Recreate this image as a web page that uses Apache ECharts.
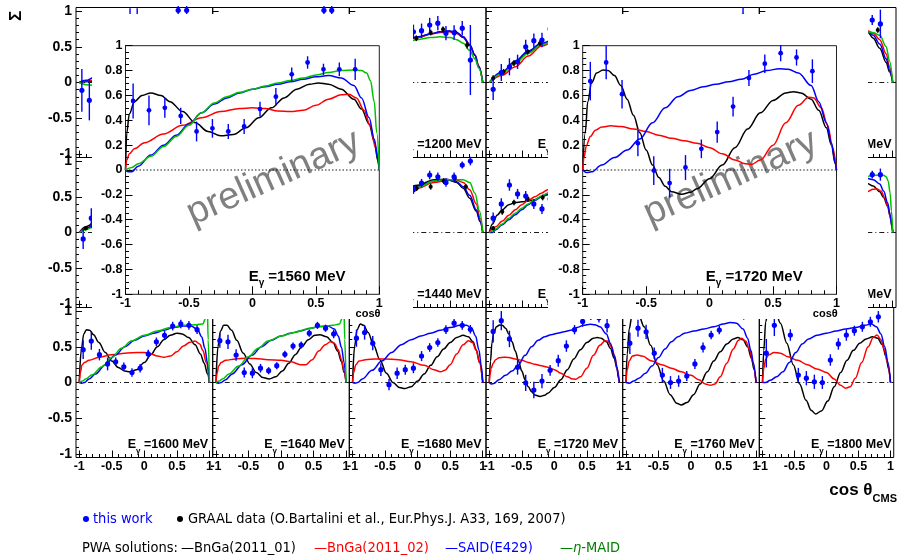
<!DOCTYPE html>
<html>
<head>
<meta charset="utf-8">
<script src="https://cdn.jsdelivr.net/npm/echarts@6/dist/echarts.min.js"></script>
<style>
  html, body { margin: 0; padding: 0; background: #fff; }
  #chart { width: 897px; height: 555px; }
</style>
</head>
<body>
<div id="chart"></div>
<script>
// ---- data ----
const cosBins = [-0.94, -0.815, -0.69, -0.565, -0.44, -0.315, -0.19, -0.065, 0.06, 0.185, 0.31, 0.435, 0.56, 0.685, 0.81];
const energies = [[1120, 1160, 1200, 1240, 1280, 1320], [1360, 1400, 1440, 1480, 1520, 1560], [1600, 1640, 1680, 1720, 1760, 1800]];

// 1560 MeV (inset, also row 2 col 6)
const sig1560 = [0.555, 0.48, 0.50, 0.435, 0.31, 0.335, 0.31, 0.35, 0.49, 0.59, 0.77, 0.865, 0.81, 0.81, 0.81];
const err1560 = [0.14, 0.12, 0.08, 0.065, 0.08, 0.075, 0.06, 0.06, 0.06, 0.07, 0.055, 0.05, 0.045, 0.055, 0.085];
const bnga1_1560 = [[-1, 0], [-0.99, 0.3], [-0.97, 0.45], [-0.93, 0.55], [-0.87, 0.6], [-0.8, 0.62], [-0.72, 0.6], [-0.65, 0.55], [-0.55, 0.47], [-0.45, 0.38], [-0.35, 0.31], [-0.25, 0.275], [-0.15, 0.285], [-0.05, 0.34], [0.05, 0.42], [0.15, 0.5], [0.25, 0.58], [0.35, 0.65], [0.45, 0.69], [0.52, 0.7], [0.6, 0.69], [0.7, 0.65], [0.8, 0.57], [0.86, 0.49], [0.92, 0.37], [0.96, 0.23], [0.99, 0.07], [1, 0]];
const bnga2_1560 = [[-1, 0], [-0.99, 0.08], [-0.97, 0.13], [-0.93, 0.17], [-0.85, 0.22], [-0.7, 0.29], [-0.55, 0.36], [-0.4, 0.42], [-0.25, 0.47], [-0.1, 0.495], [0, 0.5], [0.1, 0.495], [0.2, 0.475], [0.3, 0.47], [0.4, 0.48], [0.5, 0.52], [0.6, 0.57], [0.7, 0.605], [0.76, 0.61], [0.82, 0.58], [0.88, 0.48], [0.93, 0.35], [0.97, 0.18], [1, 0]];
const said1560 = [[-1, 0], [-0.98, -0.015], [-0.95, -0.015], [-0.9, 0.03], [-0.8, 0.12], [-0.7, 0.2], [-0.6, 0.28], [-0.5, 0.37], [-0.4, 0.46], [-0.3, 0.53], [-0.2, 0.58], [-0.1, 0.62], [0, 0.65], [0.1, 0.67], [0.2, 0.69], [0.3, 0.71], [0.4, 0.73], [0.5, 0.75], [0.6, 0.76], [0.7, 0.74], [0.8, 0.68], [0.86, 0.58], [0.92, 0.42], [0.96, 0.25], [0.99, 0.08], [1, 0]];
const maid1560 = [[-1, 0], [-0.95, 0.02], [-0.9, 0.05], [-0.8, 0.11], [-0.7, 0.19], [-0.6, 0.27], [-0.5, 0.36], [-0.4, 0.46], [-0.3, 0.54], [-0.2, 0.59], [-0.1, 0.625], [0, 0.65], [0.1, 0.675], [0.2, 0.7], [0.3, 0.72], [0.4, 0.74], [0.5, 0.765], [0.6, 0.785], [0.7, 0.8], [0.8, 0.805], [0.86, 0.8], [0.9, 0.78], [0.93, 0.72], [0.96, 0.55], [0.98, 0.3], [1, 0]];

// 1720 MeV (inset, also row 3 col 4)
const sig1720 = [0.715, 0.865, 0.61, 0.215, -0.005, -0.105, 0.02, 0.17, 0.305, 0.51, 0.74, 0.855, 0.94, 0.905, 0.795];
const err1720 = [0.155, 0.135, 0.115, 0.105, 0.115, 0.115, 0.1, 0.075, 0.085, 0.08, 0.065, 0.075, 0.065, 0.065, 0.095];
const bnga1_1720 = [[-1, 0], [-0.98, 0.3], [-0.96, 0.55], [-0.93, 0.7], [-0.89, 0.78], [-0.84, 0.805], [-0.8, 0.8], [-0.75, 0.76], [-0.7, 0.68], [-0.65, 0.57], [-0.6, 0.44], [-0.55, 0.3], [-0.5, 0.16], [-0.45, 0.04], [-0.4, -0.06], [-0.35, -0.13], [-0.3, -0.175], [-0.22, -0.195], [-0.15, -0.18], [-0.1, -0.15], [0, -0.07], [0.1, 0.04], [0.2, 0.18], [0.3, 0.33], [0.4, 0.46], [0.5, 0.56], [0.6, 0.62], [0.66, 0.63], [0.72, 0.62], [0.8, 0.57], [0.86, 0.48], [0.92, 0.34], [0.96, 0.2], [0.99, 0.05], [1, 0]];
const bnga2_1720 = [[-1, 0], [-0.99, 0.1], [-0.97, 0.2], [-0.94, 0.27], [-0.9, 0.32], [-0.85, 0.345], [-0.78, 0.355], [-0.7, 0.35], [-0.6, 0.33], [-0.5, 0.31], [-0.4, 0.28], [-0.3, 0.255], [-0.2, 0.235], [-0.1, 0.215], [0, 0.18], [0.1, 0.13], [0.2, 0.08], [0.28, 0.05], [0.33, 0.045], [0.4, 0.08], [0.5, 0.2], [0.6, 0.38], [0.7, 0.52], [0.78, 0.585], [0.82, 0.58], [0.88, 0.5], [0.93, 0.36], [0.97, 0.18], [1, 0]];
const said1720 = [[-1, 0], [-0.97, -0.02], [-0.93, -0.015], [-0.85, 0.04], [-0.75, 0.1], [-0.65, 0.16], [-0.55, 0.25], [-0.45, 0.38], [-0.35, 0.5], [-0.25, 0.59], [-0.15, 0.64], [-0.05, 0.67], [0.05, 0.69], [0.15, 0.71], [0.25, 0.73], [0.35, 0.77], [0.45, 0.8], [0.55, 0.815], [0.62, 0.81], [0.7, 0.78], [0.8, 0.68], [0.86, 0.55], [0.92, 0.38], [0.96, 0.22], [0.99, 0.06], [1, 0]];

// row 3 panels
const sig1600 = [0.46, 0.58, 0.39, 0.26, 0.29, 0.22, 0.14, 0.2, 0.4, 0.57, 0.66, 0.79, 0.82, 0.8, 0.74];
const err1600 = [0.13, 0.12, 0.08, 0.09, 0.06, 0.06, 0.06, 0.06, 0.06, 0.06, 0.06, 0.06, 0.06, 0.06, 0.06];
const bnga1_1600 = [[-1, 0], [-0.97, 0.45], [-0.93, 0.68], [-0.89, 0.74], [-0.84, 0.73], [-0.78, 0.67], [-0.7, 0.56], [-0.6, 0.42], [-0.5, 0.3], [-0.4, 0.21], [-0.3, 0.16], [-0.22, 0.15], [-0.12, 0.18], [0, 0.28], [0.1, 0.39], [0.2, 0.5], [0.3, 0.6], [0.4, 0.66], [0.5, 0.69], [0.58, 0.68], [0.68, 0.63], [0.78, 0.53], [0.86, 0.4], [0.92, 0.27], [0.97, 0.12], [1, 0]];
const bnga2_1600 = [[-1, 0], [-0.98, 0.15], [-0.96, 0.24], [-0.92, 0.28], [-0.85, 0.31], [-0.7, 0.35], [-0.5, 0.39], [-0.3, 0.41], [-0.1, 0.42], [0, 0.42], [0.1, 0.4], [0.2, 0.37], [0.3, 0.355], [0.4, 0.37], [0.5, 0.43], [0.6, 0.51], [0.7, 0.565], [0.78, 0.58], [0.85, 0.54], [0.9, 0.45], [0.95, 0.28], [1, 0]];
const said1600 = [[-1, 0], [-0.96, -0.01], [-0.92, 0], [-0.85, 0.05], [-0.75, 0.12], [-0.6, 0.25], [-0.45, 0.38], [-0.3, 0.5], [-0.15, 0.59], [0, 0.65], [0.15, 0.69], [0.3, 0.73], [0.45, 0.77], [0.6, 0.79], [0.72, 0.79], [0.82, 0.74], [0.88, 0.64], [0.93, 0.48], [0.97, 0.27], [1, 0]];
const maid1600 = [[-1, 0], [-0.95, 0.02], [-0.9, 0.05], [-0.8, 0.11], [-0.65, 0.22], [-0.5, 0.35], [-0.35, 0.48], [-0.2, 0.58], [0, 0.66], [0.2, 0.72], [0.4, 0.77], [0.6, 0.8], [0.8, 0.81], [0.9, 0.82], [0.94, 0.9], [0.965, 1.2], [0.98, 0.6], [1, 0]];

const sig1640 = [0.585, 0.57, 0.385, 0.14, 0.13, 0.2, 0.165, 0.235, 0.395, 0.51, 0.525, 0.69, 0.8, 0.76, 0.68];
const err1640 = [0.1, 0.1, 0.08, 0.07, 0.07, 0.06, 0.05, 0.05, 0.05, 0.05, 0.05, 0.05, 0.05, 0.05, 0.06];
const bnga1_1640 = [[-1, 0], [-0.97, 0.5], [-0.93, 0.72], [-0.88, 0.8], [-0.83, 0.8], [-0.76, 0.73], [-0.68, 0.59], [-0.58, 0.41], [-0.48, 0.26], [-0.38, 0.14], [-0.28, 0.07], [-0.18, 0.05], [-0.08, 0.08], [0.02, 0.16], [0.12, 0.27], [0.22, 0.39], [0.32, 0.5], [0.42, 0.6], [0.52, 0.66], [0.6, 0.67], [0.7, 0.64], [0.8, 0.56], [0.87, 0.44], [0.93, 0.29], [0.97, 0.14], [1, 0]];
const bnga2_1640 = [[-1, 0], [-0.98, 0.14], [-0.96, 0.23], [-0.92, 0.28], [-0.85, 0.31], [-0.7, 0.33], [-0.55, 0.34], [-0.4, 0.335], [-0.2, 0.32], [0, 0.31], [0.15, 0.29], [0.3, 0.25], [0.38, 0.25], [0.48, 0.32], [0.58, 0.44], [0.68, 0.53], [0.76, 0.57], [0.82, 0.55], [0.88, 0.46], [0.93, 0.32], [0.97, 0.16], [1, 0]];
const said1640 = [[-1, 0], [-0.96, -0.01], [-0.92, 0], [-0.85, 0.04], [-0.75, 0.12], [-0.6, 0.25], [-0.45, 0.38], [-0.3, 0.5], [-0.15, 0.59], [0, 0.65], [0.15, 0.69], [0.3, 0.72], [0.45, 0.76], [0.6, 0.785], [0.72, 0.79], [0.82, 0.75], [0.88, 0.65], [0.93, 0.49], [0.97, 0.28], [1, 0]];
const maid1640 = [[-1, 0], [-0.95, 0.02], [-0.9, 0.05], [-0.8, 0.12], [-0.65, 0.23], [-0.5, 0.36], [-0.35, 0.48], [-0.2, 0.58], [0, 0.65], [0.2, 0.7], [0.4, 0.75], [0.6, 0.785], [0.8, 0.8], [0.9, 0.82], [0.94, 0.9], [0.965, 1.2], [0.98, 0.6], [1, 0]];

const sig1680 = [0.62, 0.7, 0.55, 0.18, -0.03, 0.13, 0.18, 0.2, 0.37, 0.49, 0.56, 0.74, 0.83, 0.8, 0.745];
const err1680 = [0.12, 0.1, 0.1, 0.09, 0.08, 0.08, 0.07, 0.07, 0.07, 0.06, 0.06, 0.06, 0.06, 0.06, 0.06];
const bnga1_1680 = [[-1, 0], [-0.97, 0.5], [-0.93, 0.74], [-0.88, 0.82], [-0.83, 0.8], [-0.76, 0.7], [-0.68, 0.53], [-0.58, 0.32], [-0.48, 0.13], [-0.38, 0], [-0.28, -0.07], [-0.2, -0.085], [-0.1, -0.06], [0, 0.02], [0.1, 0.12], [0.2, 0.24], [0.3, 0.36], [0.4, 0.47], [0.5, 0.56], [0.6, 0.63], [0.7, 0.66], [0.78, 0.64], [0.85, 0.57], [0.9, 0.46], [0.95, 0.28], [1, 0]];
const bnga2_1680 = [[-1, 0], [-0.98, 0.15], [-0.95, 0.25], [-0.9, 0.3], [-0.8, 0.32], [-0.65, 0.33], [-0.5, 0.33], [-0.3, 0.32], [-0.1, 0.29], [0.1, 0.24], [0.25, 0.18], [0.35, 0.15], [0.42, 0.17], [0.5, 0.25], [0.6, 0.4], [0.7, 0.53], [0.78, 0.585], [0.84, 0.56], [0.9, 0.45], [0.95, 0.28], [1, 0]];
const said1680 = [[-1, 0], [-0.96, -0.01], [-0.92, 0], [-0.85, 0.05], [-0.7, 0.17], [-0.55, 0.3], [-0.4, 0.42], [-0.25, 0.53], [-0.1, 0.6], [0.05, 0.65], [0.2, 0.69], [0.35, 0.73], [0.5, 0.77], [0.65, 0.8], [0.75, 0.8], [0.83, 0.76], [0.89, 0.65], [0.94, 0.46], [0.98, 0.22], [1, 0]];

const sig1760 = [0.55, 0.76, 0.71, 0.41, 0.105, 0, 0.02, 0.09, 0.26, 0.49, 0.665, 0.735, 0.97, 0.98, 0.95];
const err1760 = [0.15, 0.12, 0.1, 0.08, 0.1, 0.09, 0.08, 0.07, 0.07, 0.07, 0.06, 0.06, 0.07, 0.07, 0.07];
const bnga1_1760 = [[-1, 0], [-0.98, 0.4], [-0.95, 0.75], [-0.91, 0.92], [-0.86, 0.97], [-0.8, 0.93], [-0.72, 0.78], [-0.62, 0.52], [-0.52, 0.25], [-0.42, 0.02], [-0.32, -0.17], [-0.22, -0.29], [-0.15, -0.315], [-0.06, -0.28], [0.04, -0.17], [0.14, -0.02], [0.25, 0.15], [0.35, 0.3], [0.45, 0.43], [0.55, 0.54], [0.65, 0.61], [0.72, 0.63], [0.8, 0.6], [0.87, 0.5], [0.93, 0.34], [0.97, 0.18], [1, 0]];
const bnga2_1760 = [[-1, 0], [-0.98, 0.18], [-0.95, 0.3], [-0.9, 0.37], [-0.83, 0.385], [-0.75, 0.37], [-0.6, 0.3], [-0.45, 0.25], [-0.3, 0.2], [-0.15, 0.15], [0, 0.1], [0.12, 0.04], [0.22, -0.02], [0.3, -0.04], [0.37, -0.02], [0.45, 0.08], [0.55, 0.27], [0.65, 0.47], [0.73, 0.59], [0.78, 0.62], [0.84, 0.58], [0.9, 0.46], [0.95, 0.28], [1, 0]];
const said1760 = [[-1, 0], [-0.95, -0.01], [-0.88, 0.02], [-0.8, 0.06], [-0.7, 0.13], [-0.6, 0.23], [-0.5, 0.35], [-0.4, 0.47], [-0.3, 0.57], [-0.2, 0.64], [-0.1, 0.69], [0.05, 0.72], [0.2, 0.75], [0.35, 0.78], [0.5, 0.82], [0.6, 0.84], [0.7, 0.83], [0.8, 0.75], [0.87, 0.62], [0.92, 0.45], [0.96, 0.27], [1, 0]];

const sig1800 = [0.41, 0.8, 0.97, 0.665, 0.105, 0.06, 0.01, 0, 0.315, 0.54, 0.665, 0.725, 0.78, 0.85, 0.92];
const err1800 = [0.2, 0.15, 0.08, 0.08, 0.1, 0.1, 0.1, 0.09, 0.08, 0.08, 0.08, 0.07, 0.07, 0.07, 0.08];
const bnga1_1800 = [[-1, 0], [-0.98, 0.45], [-0.95, 0.85], [-0.91, 1.02], [-0.86, 1.05], [-0.8, 1.0], [-0.72, 0.83], [-0.62, 0.55], [-0.52, 0.25], [-0.42, -0.02], [-0.32, -0.25], [-0.24, -0.39], [-0.17, -0.44], [-0.08, -0.4], [0.02, -0.26], [0.12, -0.06], [0.22, 0.14], [0.32, 0.31], [0.42, 0.45], [0.52, 0.55], [0.62, 0.61], [0.72, 0.64], [0.8, 0.62], [0.87, 0.53], [0.93, 0.36], [0.97, 0.19], [1, 0]];
const bnga2_1800 = [[-1, 0], [-0.98, 0.2], [-0.95, 0.33], [-0.9, 0.39], [-0.82, 0.42], [-0.72, 0.41], [-0.6, 0.36], [-0.45, 0.31], [-0.3, 0.25], [-0.15, 0.19], [0, 0.14], [0.12, 0.05], [0.22, -0.04], [0.3, -0.08], [0.37, -0.06], [0.45, 0.06], [0.55, 0.28], [0.65, 0.5], [0.73, 0.63], [0.79, 0.665], [0.85, 0.6], [0.9, 0.47], [0.95, 0.28], [1, 0]];
const said1800 = [[-1, 0], [-0.95, 0], [-0.88, 0.03], [-0.78, 0.08], [-0.68, 0.15], [-0.58, 0.28], [-0.48, 0.42], [-0.38, 0.54], [-0.28, 0.61], [-0.15, 0.66], [0, 0.69], [0.15, 0.72], [0.3, 0.75], [0.45, 0.77], [0.6, 0.8], [0.7, 0.82], [0.78, 0.78], [0.85, 0.68], [0.91, 0.5], [0.96, 0.28], [1, 0]];

// partly hidden panels of rows 1 and 2: [cos, value, error]
const this1120 = [[-0.96, -0.11, 0.3], [-0.845, -0.25, 0.28], [-0.22, 0.92, 0.12], [-0.11, 0.92, 0.12], [0.52, 1.01, 0.06], [0.65, 1.01, 0.06]];
const bnga1_1120 = [[-1, 0], [-0.9, 0.01], [-0.76, 0.02]];
const bnga2_1120 = [[-1, 0], [-0.9, 0.02], [-0.76, 0.03]];
const said1120 = [[-1, 0], [-0.9, 0.03], [-0.76, 0.09]];
const maid1120 = [[-1, 0], [-0.9, -0.03], [-0.76, -0.04]];
const this1160 = [[0.66, 1.01, 0.06], [0.78, 1.01, 0.06]];
const this1200 = [[-0.065, 0.71, 0.1], [0.06, 0.725, 0.1], [0.185, 0.805, 0.1], [0.31, 0.83, 0.1], [0.435, 0.69, 0.1], [0.56, 0.7, 0.1], [0.685, 0.76, 0.1], [0.81, 0.315, 0.49]];
const graal1200 = [[-0.02, 0.62, 0.04], [0.2, 0.7, 0.04], [0.39, 0.745, 0.04], [0.58, 0.7, 0.04], [0.76, 0.525, 0.05]];
const bnga1_1200 = [[-0.2, 0.58], [0, 0.63], [0.2, 0.68], [0.35, 0.71], [0.48, 0.72], [0.6, 0.69], [0.7, 0.63], [0.8, 0.52], [0.88, 0.38], [0.94, 0.22], [1, 0]];
const bnga2_1200 = [[-0.2, 0.58], [0, 0.63], [0.2, 0.68], [0.35, 0.7], [0.48, 0.71], [0.6, 0.69], [0.7, 0.64], [0.8, 0.53], [0.88, 0.39], [0.94, 0.23], [1, 0]];
const said1200 = [[-0.2, 0.59], [0, 0.64], [0.2, 0.68], [0.35, 0.71], [0.48, 0.72], [0.6, 0.7], [0.7, 0.64], [0.8, 0.53], [0.88, 0.38], [0.94, 0.22], [1, 0]];
const maid1200 = [[-0.2, 0.56], [0, 0.6], [0.2, 0.63], [0.35, 0.64], [0.5, 0.63], [0.6, 0.6], [0.7, 0.55], [0.8, 0.45], [0.88, 0.33], [0.94, 0.2], [1, 0]];
const this1240 = [[-0.94, -0.095, 0.15], [-0.815, 0.14, 0.12], [-0.69, 0.22, 0.12], [-0.565, 0.29, 0.1], [-0.44, 0.5, 0.1], [-0.315, 0.585, 0.1], [-0.19, 0.595, 0.1], [-0.065, 0.75, 0.1]];
const graal1240 = [[-0.94, 0.06, 0.04], [-0.78, 0.15, 0.04], [-0.62, 0.27, 0.04], [-0.41, 0.43, 0.04], [-0.22, 0.55, 0.04]];
const bnga1_1240 = [[-1, 0], [-0.8, 0.14], [-0.6, 0.29], [-0.4, 0.43], [-0.2, 0.54], [0, 0.62]];
const bnga2_1240 = [[-1, 0], [-0.8, 0.1], [-0.6, 0.22], [-0.4, 0.37], [-0.2, 0.51], [0, 0.6]];
const said1240 = [[-1, 0], [-0.8, 0.15], [-0.6, 0.3], [-0.4, 0.44], [-0.2, 0.55], [0, 0.63]];
const maid1240 = [[-1, 0], [-0.8, 0.13], [-0.6, 0.27], [-0.4, 0.41], [-0.2, 0.53], [0, 0.61]];
const this1280 = [[0.8, 0.93, 0.12]];
const this1320 = [[0.685, 0.875, 0.07], [0.81, 0.82, 0.2]];
const graal1320 = [[0.77, 0.735, 0.04]];
const bnga1_1320 = [[0.5, 0.74], [0.62, 0.7], [0.7, 0.62], [0.8, 0.48], [0.9, 0.28], [0.95, 0.15], [1, 0]];
const bnga2_1320 = [[0.5, 0.74], [0.62, 0.72], [0.7, 0.69], [0.8, 0.6], [0.9, 0.4], [0.95, 0.22], [1, 0]];
const said1320 = [[0.5, 0.74], [0.62, 0.71], [0.7, 0.66], [0.8, 0.54], [0.9, 0.33], [0.95, 0.18], [1, 0]];
const maid1320 = [[0.5, 0.72], [0.62, 0.71], [0.7, 0.7], [0.8, 0.66], [0.9, 0.5], [0.95, 0.3], [1, 0]];
const this1360 = [[-0.94, -0.09, 0.14], [-0.815, 0.2, 0.14]];
const graal1360 = [[-0.9, 0.06, 0.03]];
const bnga1_1360 = [[-1, 0], [-0.9, 0.08], [-0.76, 0.17]];
const bnga2_1360 = [[-1, 0], [-0.9, 0.06], [-0.76, 0.14]];
const said1360 = [[-1, 0], [-0.9, 0.05], [-0.76, 0.15]];
const maid1360 = [[-1, 0], [-0.9, 0.04], [-0.76, 0.12]];
const this1440 = [[-0.065, 0.6, 0.06], [0.06, 0.69, 0.06], [0.185, 0.805, 0.06], [0.31, 0.78, 0.06], [0.435, 0.7, 0.06], [0.56, 0.78, 0.06], [0.685, 0.945, 0.05], [0.81, 1.0, 0.06]];
const graal1440 = [[-0.015, 0.62, 0.04], [0.2, 0.64, 0.04], [0.4, 0.72, 0.04], [0.57, 0.76, 0.04], [0.74, 0.64, 0.04]];
const bnga1_1440 = [[-0.2, 0.6], [0, 0.66], [0.25, 0.74], [0.45, 0.745], [0.6, 0.7], [0.7, 0.62], [0.8, 0.48], [0.9, 0.3], [0.96, 0.15], [1, 0]];
const bnga2_1440 = [[-0.2, 0.56], [0, 0.62], [0.25, 0.7], [0.45, 0.73], [0.6, 0.73], [0.7, 0.7], [0.8, 0.6], [0.9, 0.4], [0.96, 0.2], [1, 0]];
const said1440 = [[-0.2, 0.59], [0, 0.65], [0.25, 0.72], [0.45, 0.74], [0.6, 0.71], [0.7, 0.64], [0.8, 0.52], [0.9, 0.32], [0.96, 0.16], [1, 0]];
const maid1440 = [[-0.2, 0.57], [0, 0.63], [0.25, 0.72], [0.45, 0.74], [0.6, 0.74], [0.7, 0.74], [0.8, 0.7], [0.88, 0.55], [0.95, 0.3], [1, 0]];
const this1480 = [[-0.94, 0.2, 0.08], [-0.815, 0.4, 0.08], [-0.69, 0.665, 0.08], [-0.565, 0.54, 0.07], [-0.44, 0.51, 0.07], [-0.315, 0.4, 0.07], [-0.19, 0.33, 0.07], [-0.065, 0.47, 0.07]];
const graal1480 = [[-0.94, 0.06, 0.03], [-0.8, 0.29, 0.04], [-0.62, 0.42, 0.04], [-0.41, 0.47, 0.04], [-0.18, 0.49, 0.04]];
const bnga1_1480 = [[-1, 0], [-0.95, 0.12], [-0.88, 0.24], [-0.8, 0.32], [-0.7, 0.39], [-0.6, 0.42], [-0.5, 0.43], [-0.4, 0.44], [-0.3, 0.46], [-0.2, 0.5], [-0.1, 0.53], [0, 0.56]];
const bnga2_1480 = [[-1, 0], [-0.9, 0.08], [-0.8, 0.16], [-0.7, 0.24], [-0.6, 0.32], [-0.5, 0.39], [-0.4, 0.45], [-0.3, 0.5], [-0.2, 0.55], [-0.1, 0.6], [0, 0.63]];
const said1480 = [[-1, 0], [-0.95, 0], [-0.9, 0.04], [-0.8, 0.11], [-0.7, 0.18], [-0.6, 0.25], [-0.5, 0.32], [-0.4, 0.39], [-0.3, 0.45], [-0.2, 0.5], [-0.1, 0.55], [0, 0.59]];
const maid1480 = [[-1, 0], [-0.95, 0.02], [-0.9, 0.05], [-0.8, 0.12], [-0.7, 0.2], [-0.6, 0.27], [-0.5, 0.34], [-0.4, 0.4], [-0.3, 0.46], [-0.2, 0.51], [-0.1, 0.55], [0, 0.58]];

// ---- layout ----
const FONT = "'Liberation Sans', Arial, Helvetica, sans-serif";
const NARROW = "'Liberation Sans Narrow', 'DejaVu Sans Condensed', sans-serif";
const BLUE = '#0000ff', RED = '#ff0000', GREEN = '#00c000', BLACK = '#000000';
const COLS = [76, 212.7, 349.3, 486, 622.7, 759.3, 896];
const ROWS = [7.5, 157.5, 307.5, 457.5];

const binned = (sig, err) => cosBins.map((c, i) => [c, sig[i], err[i]]);
const panels = {
  1120: { pts: this1120, curves: [bnga1_1120, bnga2_1120, said1120, maid1120] },
  1160: { pts: this1160, curves: [] },
  1200: { pts: this1200, graal: graal1200, curves: [bnga1_1200, bnga2_1200, said1200, maid1200] },
  1240: { pts: this1240, graal: graal1240, curves: [bnga1_1240, bnga2_1240, said1240, maid1240] },
  1280: { pts: this1280, curves: [] },
  1320: { pts: this1320, graal: graal1320, curves: [bnga1_1320, bnga2_1320, said1320, maid1320] },
  1360: { pts: this1360, graal: graal1360, curves: [bnga1_1360, bnga2_1360, said1360, maid1360] },
  1400: { pts: [], curves: [] },
  1440: { pts: this1440, graal: graal1440, curves: [bnga1_1440, bnga2_1440, said1440, maid1440] },
  1480: { pts: this1480, graal: graal1480, curves: [bnga1_1480, bnga2_1480, said1480, maid1480] },
  1520: { pts: [], curves: [] },
  1560: { pts: binned(sig1560, err1560), curves: [bnga1_1560, bnga2_1560, said1560, maid1560] },
  1600: { pts: binned(sig1600, err1600), curves: [bnga1_1600, bnga2_1600, said1600, maid1600] },
  1640: { pts: binned(sig1640, err1640), curves: [bnga1_1640, bnga2_1640, said1640, maid1640] },
  1680: { pts: binned(sig1680, err1680), curves: [bnga1_1680, bnga2_1680, said1680] },
  1720: { pts: binned(sig1720, err1720), curves: [bnga1_1720, bnga2_1720, said1720] },
  1760: { pts: binned(sig1760, err1760), curves: [bnga1_1760, bnga2_1760, said1760] },
  1800: { pts: binned(sig1800, err1800), curves: [bnga1_1800, bnga2_1800, said1800] }
};
const curveColors = [BLACK, RED, BLUE, GREEN];

const option = { animation: false, grid: [], xAxis: [], yAxis: [], series: [], graphic: { elements: [] } };
const gfx = option.graphic.elements;

function steps (a, b, s) {
  const out = [];
  const n = Math.round((b - a) / s);
  for (let i = 0; i <= n; i++) out.push(+(a + i * s).toFixed(3));
  return out;
}
const fmt = v => String(Math.round(v * 100) / 100);

function axisPair (kind, gi, c) {
  const list = kind === 'x' ? option.xAxis : option.yAxis;
  const idx = list.length;
  const k = kind === 'x' ? c.x : c.y;
  const base = {
    type: 'value', gridIndex: gi, min: k.range[0], max: k.range[1], z: c.z,
    position: kind === 'x' ? 'bottom' : 'left',
    axisLine: { show: false, onZero: false }, splitLine: { show: false }
  };
  list.push(Object.assign({}, base, {
    axisTick: { show: true, inside: true, length: k.tick[0], customValues: k.major, lineStyle: { color: '#000', width: 1 } },
    axisLabel: { show: k.label, customValues: k.major, margin: k.margin, color: '#000', fontFamily: FONT, fontWeight: 'bold', fontSize: k.font, formatter: fmt }
  }));
  list.push(Object.assign({}, base, {
    axisTick: { show: true, inside: true, length: k.tick[1], customValues: k.minor, lineStyle: { color: '#000', width: 1 } },
    axisLabel: { show: false }
  }));
  return idx;
}

function addFrame (c) {
  const gi = option.grid.length;
  option.grid.push({ left: c.left, top: c.top, width: c.width, height: c.height, show: true, borderColor: c.border || '#000', borderWidth: 1, z: c.z });
  return { xi: axisPair('x', gi, c), yi: axisPair('y', gi, c), z: c.z, xr: c.x.range };
}

function addLine (ax, data, color, width, type, smooth) {
  option.series.push({
    type: 'line', xAxisIndex: ax.xi, yAxisIndex: ax.yi, data, symbol: 'none', silent: true,
    smooth, smoothMonotone: 'x', z: ax.z + 1, lineStyle: { color, width, type }
  });
}

function addPoints (ax, data, color, r) {
  option.series.push({
    type: 'custom', xAxisIndex: ax.xi, yAxisIndex: ax.yi, data, silent: true, z: ax.z + 2,
    encode: { x: 0, y: 1 },
    renderItem (params, api) {
      const x = api.value(0), y = api.value(1), e = api.value(2);
      const p = api.coord([x, y]), lo = api.coord([x, y - e]), hi = api.coord([x, y + e]);
      return {
        type: 'group',
        children: [
          { type: 'line', shape: { x1: p[0], y1: lo[1], x2: p[0], y2: hi[1] }, style: { stroke: color, lineWidth: 1.4 } },
          { type: 'circle', shape: { cx: p[0], cy: p[1], r }, style: { fill: color } }
        ]
      };
    }
  });
}

function drawPanel (ax, d, zeroType, lw, r) {
  addLine(ax, [[ax.xr[0], 0], [ax.xr[1], 0]], '#000', 0.9, zeroType, false);
  d.curves.forEach((cv, i) => addLine(ax, cv, curveColors[i], lw, 'solid', 0.35));
  if (d.graal) addPoints(ax, d.graal, BLACK, r * 0.8);
  addPoints(ax, d.pts, BLUE, r);
}

function energyText (x, y, e, size, z) {
  gfx.push({
    type: 'text', x, y, z,
    style: {
      text: '{b|E}{s|γ}{b| =' + e + ' MeV}',
      align: 'right', verticalAlign: 'middle', textAlign: 'right', textVerticalAlign: 'middle',
      rich: {
        b: { fontFamily: FONT, fontWeight: 'bold', fontSize: size, fill: '#000', color: '#000', verticalAlign: 'bottom', padding: [0, 0, Math.round(size * 0.28), 0] },
        s: { fontFamily: FONT, fontWeight: 'bold', fontSize: Math.round(size * 0.65), fill: '#000', color: '#000', verticalAlign: 'bottom' }
      }
    }
  });
}

// background 3 x 6 panels
energies.forEach((row, r) => {
  row.forEach((e, c) => {
    const ax = addFrame({
      left: COLS[c], top: ROWS[r], width: COLS[c + 1] - COLS[c], height: ROWS[r + 1] - ROWS[r], z: 0,
      x: { range: [-1.05, 1.05], major: [-1, -0.5, 0, 0.5, 1], minor: steps(-1, 1, 0.1), tick: [7, 3.5], label: r === 2, margin: 3, font: 12.5 },
      y: { range: [-1.05, 1.05], major: [-1, -0.5, 0, 0.5, 1], minor: steps(-1, 1, 0.1), tick: [6, 3], label: c === 0, margin: 4, font: 14 }
    });
    drawPanel(ax, panels[e], [5, 3, 1, 3], 1.5, 2.6);
    energyText(COLS[c + 1] - 4.5, ROWS[r + 1] - 11, e, 12.5, 5);
  });
});

// white pads of the two enlarged views
[[92, 14, 321, 305], [548, 14, 320, 305]].forEach(b => {
  gfx.push({ type: 'rect', z: 20, shape: { x: b[0], y: b[1], width: b[2], height: b[3] }, style: { fill: '#fff' } });
});

// enlarged views
[[125.5, 1560], [582.7, 1720]].forEach(([left, e]) => {
  const ax = addFrame({
    left, top: 45.7, width: 253.8, height: 248.6, z: 30, border: '#222',
    x: { range: [-1, 1], major: [-1, -0.5, 0, 0.5, 1], minor: steps(-1, 1, 0.1), tick: [8, 4], label: true, margin: 3, font: 12.5 },
    y: { range: [-1, 1], major: steps(-1, 1, 0.2), minor: steps(-1, 1, 0.05), tick: [7, 3.5], label: true, margin: 3, font: 12.5 }
  });
  drawPanel(ax, panels[e], [1.5, 2], 1.5, 2.4);
  energyText(left + 220, 279, e, 15, 35);
  gfx.push({ type: 'text', x: left + 255, y: 314, z: 35, style: { text: 'cosθ', fill: '#000', fontFamily: FONT, fontWeight: 'bold', fontSize: 11, align: 'right', verticalAlign: 'middle', textAlign: 'right', textVerticalAlign: 'middle' } });
  gfx.push({ type: 'text', x: left + 148, y: 178, z: 29, rotation: 24 * Math.PI / 180, style: { text: 'preliminary', fill: '#808080', fontFamily: FONT, fontSize: 38, align: 'center', verticalAlign: 'middle', textAlign: 'center', textVerticalAlign: 'middle' } });
});

// axis titles
gfx.push({ type: 'text', x: 16, y: 16, z: 40, rotation: Math.PI / 2, style: { text: 'Σ', fill: '#000', fontFamily: FONT, fontWeight: 'bold', fontSize: 17, align: 'center', verticalAlign: 'middle', textAlign: 'center', textVerticalAlign: 'middle' } });
gfx.push({
  type: 'text', x: 897, y: 493, z: 40,
  style: {
    text: '{b|cos θ}{s|CMS}', align: 'right', verticalAlign: 'middle', textAlign: 'right', textVerticalAlign: 'middle',
    rich: {
      b: { fontFamily: FONT, fontWeight: 'bold', fontSize: 17, fill: '#000', color: '#000', verticalAlign: 'bottom', padding: [0, 0, 5, 0] },
      s: { fontFamily: FONT, fontWeight: 'bold', fontSize: 11, fill: '#000', color: '#000', verticalAlign: 'bottom' }
    }
  }
});

// legend
function legText (x, y, text, color) {
  gfx.push({ type: 'text', x, y, z: 40, style: { text, fill: color, fontFamily: NARROW, fontSize: 14.5, align: 'left', verticalAlign: 'middle', textAlign: 'left', textVerticalAlign: 'middle' } });
}
gfx.push({ type: 'circle', z: 40, shape: { cx: 86, cy: 519, r: 3 }, style: { fill: BLUE } });
legText(93, 519, 'this work', BLUE);
gfx.push({ type: 'circle', z: 40, shape: { cx: 180, cy: 519, r: 3 }, style: { fill: BLACK } });
legText(188, 519, 'GRAAL data (O.Bartalini et al., Eur.Phys.J. A33, 169, 2007)', BLACK);
legText(82, 548, 'PWA solutions:', BLACK);
legText(181, 548, '—BnGa(2011_01)', BLACK);
legText(314, 548, '—BnGa(2011_02)', RED);
legText(445, 548, '—SAID(E429)', BLUE);
gfx.push({
  type: 'text', x: 560, y: 548, z: 40,
  style: {
    text: '{n|—}{i|η}{n|-MAID}', align: 'left', verticalAlign: 'middle', textAlign: 'left', textVerticalAlign: 'middle',
    rich: {
      n: { fontFamily: NARROW, fontSize: 14.5, fill: '#008000', color: '#008000' },
      i: { fontFamily: NARROW, fontSize: 14.5, fontStyle: 'italic', fill: '#008000', color: '#008000' }
    }
  }
});

const chart = echarts.init(document.getElementById('chart'), null, { renderer: 'canvas' });
chart.setOption(option);
</script>
</body>
</html>
